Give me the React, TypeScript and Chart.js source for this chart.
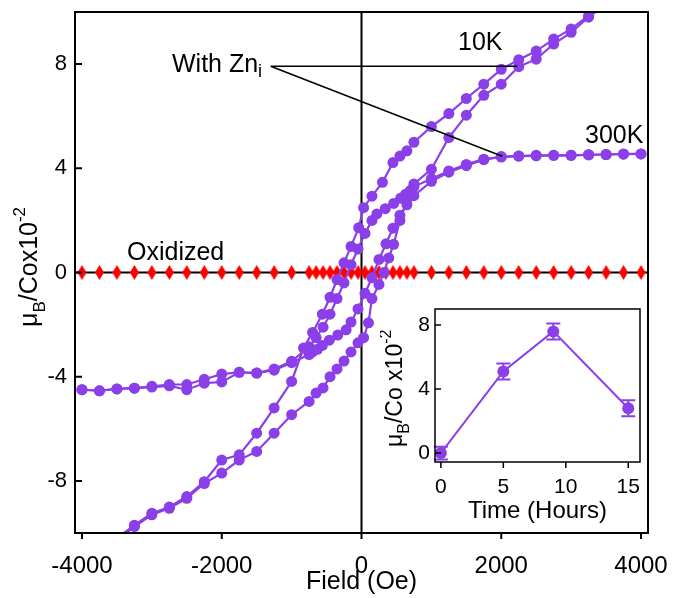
import { useEffect, useRef } from "react";
import { Chart, registerables } from "chart.js";
Chart.register(...registerables);

const FONT = '"Liberation Sans", Arial, sans-serif';
const PURPLE = "#8b3fe8";
const RED = "#ff0000";

// ---- main chart ticks ----
const xTicks = [-4000, -2000, 0, 2000, 4000];
const yTicks = [-8, -4, 0, 4, 8];

// ---- Oxidized sample ----
const oxField = [
  -4000, -3750, -3500, -3250, -3000, -2750, -2500, -2250, -2000, -1750, -1500, -1250, -1000,
  -750, -650, -550, -450, -350, -250, -150, -50, 50, 150, 250, 350, 450, 550, 650, 750,
  1000, 1250, 1500, 1750, 2000, 2250, 2500, 2750, 3000, 3250, 3500, 3750, 4000,
];
const oxMoment = [
  0, 0, 0, 0, 0, 0, 0, 0, 0, 0, 0, 0, 0,
  0, 0, 0, 0, 0, 0, 0, 0, 0, 0, 0, 0, 0, 0, 0, 0,
  0, 0, 0, 0, 0, 0, 0, 0, 0, 0, 0, 0, 0,
];

// ---- 10K loop, descending branch ----
const h10Down = [
  4000, 3750, 3500, 3250, 3000, 2750, 2500, 2250, 2000, 1750, 1500, 1250, 1000,
  750, 650, 550, 450, 300, 150, 30, -40, -150, -250, -350, -450, -560, -700, -830,
  -1000, -1250, -1500, -1750, -2000, -2250, -2500, -2750, -3000, -3250, -3500, -3750, -4000,
];
const m10Down = [
  11.4, 10.9, 10.4, 9.86, 9.35, 8.96, 8.5, 8.17, 7.8, 7.23, 6.68, 6.1, 5.6,
  5.0, 4.67, 4.47, 4.22, 3.46, 2.93, 2.49, 1.72, 1.0, 0.37, -0.27, -0.95, -1.6, -2.3, -2.9,
  -4.18, -5.2, -6.17, -7.0, -7.2, -8.03, -8.6, -9.0, -9.24, -9.7, -10.2, -10.7, -11.2,
];

// ---- 10K loop, ascending branch ----
const h10Up = [
  -4000, -3750, -3500, -3250, -3000, -2750, -2500, -2250, -2000, -1750, -1500, -1250, -1000,
  -750, -650, -550, -450, -350, -250, -150, -50, 30, 100, 150, 250, 320, 390, 460, 550, 650, 750,
  1000, 1250, 1500, 1750, 2000, 2250, 2500, 2750, 3000, 3250, 3500, 3750, 4000,
];
const m10Up = [
  -11.3, -10.8, -10.3, -9.75, -9.3, -9.05, -8.67, -8.1, -7.7, -7.2, -6.87, -6.17, -5.46,
  -4.95, -4.63, -4.43, -4.0, -3.7, -3.4, -3.05, -2.7, -2.5, -1.93, -1.0, -0.46, 0.0, 0.56, 1.08, 2.0, 2.8, 3.4,
  3.96, 5.18, 6.04, 6.8, 7.23, 7.9, 8.19, 8.77, 9.22, 9.8, 10.3, 10.8, 11.3,
];

// ---- 300K loop, descending branch ----
const h300Down = [
  4000, 3750, 3500, 3250, 3000, 2750, 2500, 2250, 2000, 1750, 1500, 1250, 1000,
  750, 700, 630, 560, 460, 340, 220, 150, 50, -50, -150, -250, -350, -450, -550, -650, -750,
  -1000, -1250, -1500, -1750, -2000, -2250, -2500, -2750, -3000, -3250, -3500, -3750, -4000,
];
const m300Down = [
  4.55, 4.54, 4.53, 4.52, 4.5, 4.5, 4.48, 4.47, 4.43, 4.35, 4.15, 3.9, 3.6,
  3.3, 3.15, 3.0, 2.85, 2.65, 2.45, 2.25, 2.0, 1.5, 0.9, 0.3, -0.4, -1.0, -1.6, -2.1, -2.5, -2.85,
  -3.41, -3.7, -3.86, -3.83, -3.9, -4.1, -4.3, -4.3, -4.37, -4.44, -4.47, -4.54, -4.5,
];

// ---- 300K loop, ascending branch ----
const h300Up = [
  -4000, -3750, -3500, -3250, -3000, -2750, -2500, -2250, -2000, -1750, -1500, -1250, -1000,
  -750, -700, -630, -560, -460, -340, -220, -150, -50, 50, 150, 250, 350, 450, 550, 650, 750,
  1000, 1250, 1500, 1750, 2000, 2250, 2500, 2750, 3000, 3250, 3500, 3750, 4000,
];
const m300Up = [
  -4.5, -4.54, -4.47, -4.44, -4.4, -4.35, -4.5, -4.25, -4.2, -3.83, -3.86, -3.75, -3.46,
  -3.15, -3.05, -2.95, -2.8, -2.6, -2.4, -2.2, -1.9, -1.4, -0.8, -0.2, 0.5, 1.1, 1.7, 2.2, 2.6, 2.95,
  3.5, 3.85, 4.1, 4.33, 4.45, 4.47, 4.5, 4.5, 4.5, 4.52, 4.53, 4.55, 4.55,
];

// ---- inset: moment vs annealing time ----
const timeHours = [0, 5, 9, 15];
const momentTime = [0.0, 5.1, 7.6, 2.8];
const momentErr = [0.4, 0.5, 0.5, 0.5];
const insetXTicks = [0, 5, 10, 15];
const insetYTicks = [0, 4, 8];

// annotation (data coordinates)
const calloutStart = [-1300, 7.92];
const calloutEnds = [
  [2230, 7.92],
  [2014, 4.46],
];

function pts(xs: number[], ys: number[]) {
  return xs.map((x, i) => ({ x, y: ys[i] }));
}

type Part = { t: string; s: number; dy?: number };
function drawRich(ctx: CanvasRenderingContext2D, parts: Part[], x: number, y: number) {
  let cx = x;
  for (const p of parts) {
    ctx.font = `${p.s}px ${FONT}`;
    ctx.fillText(p.t, cx, y + (p.dy || 0));
    cx += ctx.measureText(p.t).width;
  }
}

function makeDiamond() {
  const c = document.createElement("canvas");
  c.width = 9;
  c.height = 15;
  const g = c.getContext("2d")!;
  g.fillStyle = RED;
  g.beginPath();
  g.moveTo(4.5, 0);
  g.lineTo(9, 7.5);
  g.lineTo(4.5, 15);
  g.lineTo(0, 7.5);
  g.closePath();
  g.fill();
  return c;
}

const mainDecor = {
  id: "mainDecor",
  beforeDatasetsDraw(chart: any) {
    const { ctx, chartArea: a, scales } = chart;
    const x0 = scales.x.getPixelForValue(0);
    const y0 = scales.y.getPixelForValue(0);
    ctx.save();
    ctx.strokeStyle = "#000";
    ctx.lineWidth = 2;
    ctx.beginPath();
    ctx.moveTo(x0, a.top);
    ctx.lineTo(x0, a.bottom);
    ctx.moveTo(a.left, y0);
    ctx.lineTo(a.right, y0);
    ctx.stroke();
    ctx.restore();
  },
  afterDatasetsDraw(chart: any) {
    const { ctx, chartArea: a, scales } = chart;
    const sx = scales.x, sy = scales.y;
    ctx.save();
    ctx.strokeStyle = "#000";
    ctx.fillStyle = "#000";
    ctx.lineWidth = 2;
    ctx.strokeRect(a.left, a.top, a.right - a.left, a.bottom - a.top);
    // ticks
    ctx.beginPath();
    for (const v of xTicks) {
      const px = sx.getPixelForValue(v);
      ctx.moveTo(px, a.bottom);
      ctx.lineTo(px, a.bottom + 6);
    }
    for (const v of yTicks) {
      const py = sy.getPixelForValue(v);
      ctx.moveTo(a.left, py);
      ctx.lineTo(a.left + 7, py);
    }
    ctx.stroke();
    ctx.font = `24px ${FONT}`;
    ctx.textAlign = "center";
    ctx.textBaseline = "alphabetic";
    for (const v of xTicks) ctx.fillText(String(v), sx.getPixelForValue(v), 573);
    ctx.font = `22px ${FONT}`;
    ctx.textAlign = "right";
    ctx.textBaseline = "middle";
    for (const v of yTicks) ctx.fillText(String(v), a.left - 8, sy.getPixelForValue(v));
    // axis titles
    ctx.textBaseline = "alphabetic";
    ctx.textAlign = "center";
    ctx.font = `25px ${FONT}`;
    ctx.fillText("Field (Oe)", sx.getPixelForValue(0), 589);
    ctx.textAlign = "left";
    ctx.save();
    ctx.translate(37, 327);
    ctx.rotate(-Math.PI / 2);
    drawRich(ctx, [
      { t: "μ", s: 25 },
      { t: "B", s: 17, dy: 8 },
      { t: "/Cox10", s: 25 },
      { t: "-2", s: 17, dy: -12 },
    ], 0, 0);
    ctx.restore();
    // callout lines
    ctx.lineWidth = 1.5;
    ctx.beginPath();
    for (const e of calloutEnds) {
      ctx.moveTo(sx.getPixelForValue(calloutStart[0]), sy.getPixelForValue(calloutStart[1]));
      ctx.lineTo(sx.getPixelForValue(e[0]), sy.getPixelForValue(e[1]));
    }
    ctx.stroke();
    // labels
    ctx.textAlign = "left";
    drawRich(ctx, [{ t: "With Zn", s: 25 }, { t: "i", s: 18, dy: 5 }], 172, 72);
    ctx.font = `25px ${FONT}`;
    ctx.fillText("10K", 458, 50);
    ctx.fillText("300K", 585, 143);
    ctx.fillText("Oxidized", 127, 260);
    ctx.restore();
  },
};

const insetDecor = {
  id: "insetDecor",
  beforeDatasetsDraw(chart: any) {
    const { ctx, scales } = chart;
    const sx = scales.x, sy = scales.y;
    ctx.save();
    ctx.strokeStyle = PURPLE;
    ctx.lineWidth = 2;
    ctx.beginPath();
    timeHours.forEach((t, i) => {
      const px = sx.getPixelForValue(t);
      const top = sy.getPixelForValue(momentTime[i] + momentErr[i]);
      const bot = sy.getPixelForValue(momentTime[i] - momentErr[i]);
      ctx.moveTo(px, top);
      ctx.lineTo(px, bot);
      ctx.moveTo(px - 7, top);
      ctx.lineTo(px + 7, top);
      ctx.moveTo(px - 7, bot);
      ctx.lineTo(px + 7, bot);
    });
    ctx.stroke();
    ctx.restore();
  },
  afterDatasetsDraw(chart: any) {
    const { ctx, chartArea: a, scales } = chart;
    const sx = scales.x, sy = scales.y;
    ctx.save();
    ctx.strokeStyle = "#000";
    ctx.fillStyle = "#000";
    ctx.lineWidth = 1.5;
    ctx.strokeRect(a.left, a.top, a.right - a.left, a.bottom - a.top);
    ctx.beginPath();
    for (const v of insetXTicks) {
      const px = sx.getPixelForValue(v);
      ctx.moveTo(px, a.bottom);
      ctx.lineTo(px, a.bottom + 6);
    }
    for (const v of insetYTicks) {
      const py = sy.getPixelForValue(v);
      ctx.moveTo(a.left, py);
      ctx.lineTo(a.left + 6, py);
    }
    ctx.stroke();
    ctx.font = `21px ${FONT}`;
    ctx.textAlign = "center";
    ctx.textBaseline = "alphabetic";
    for (const v of insetXTicks) ctx.fillText(String(v), sx.getPixelForValue(v), a.bottom + 31);
    ctx.textAlign = "right";
    ctx.textBaseline = "middle";
    for (const v of insetYTicks) ctx.fillText(String(v), a.left - 5, sy.getPixelForValue(v));
    ctx.textAlign = "center";
    ctx.textBaseline = "alphabetic";
    ctx.font = `24px ${FONT}`;
    ctx.fillText("Time (Hours)", (a.left + a.right) / 2, a.bottom + 56);
    ctx.textAlign = "left";
    ctx.save();
    ctx.translate(a.left - 33, a.bottom - 15);
    ctx.rotate(-Math.PI / 2);
    drawRich(ctx, [
      { t: "μ", s: 23 },
      { t: "B", s: 16, dy: 7 },
      { t: "/Co x10", s: 23 },
      { t: "-2", s: 16, dy: -11 },
    ], 0, 0);
    ctx.restore();
    ctx.restore();
  },
};

export default function App() {
  const mainRef = useRef<HTMLCanvasElement>(null);
  const insetRef = useRef<HTMLCanvasElement>(null);

  useEffect(() => {
    document.body.style.margin = "0";
    const diamond = makeDiamond();
    const loopStyle = {
      showLine: true,
      borderColor: PURPLE,
      backgroundColor: PURPLE,
      pointBackgroundColor: PURPLE,
      pointBorderColor: PURPLE,
      borderWidth: 2.2,
      pointRadius: 5.5,
      pointBorderWidth: 0,
      tension: 0,
    };
    const main = new Chart(mainRef.current!, {
      type: "scatter",
      data: {
        datasets: [
          { label: "10K down", data: pts(h10Down, m10Down), ...loopStyle, order: 0 },
          { label: "10K up", data: pts(h10Up, m10Up), ...loopStyle, order: 0 },
          { label: "300K down", data: pts(h300Down, m300Down), ...loopStyle, order: 0 },
          { label: "300K up", data: pts(h300Up, m300Up), ...loopStyle, order: 0 },
          {
            label: "Oxidized",
            data: pts(oxField, oxMoment),
            showLine: false,
            pointStyle: diamond as any,
            pointRadius: 7,
            order: 5,
          },
        ],
      },
      options: {
        responsive: false,
        animation: false,
        layout: { padding: { left: 75, right: 25, top: 12, bottom: 65 } },
        plugins: { legend: { display: false }, tooltip: { enabled: false } },
        scales: {
          x: { type: "linear", min: -4100, max: 4100, display: false },
          y: { type: "linear", min: -10, max: 10, display: false },
        },
      },
      plugins: [mainDecor],
    });

    const inset = new Chart(insetRef.current!, {
      type: "scatter",
      data: {
        datasets: [
          {
            label: "moment",
            data: pts(timeHours, momentTime),
            showLine: true,
            borderColor: PURPLE,
            backgroundColor: PURPLE,
            pointBackgroundColor: PURPLE,
            pointBorderColor: PURPLE,
            borderWidth: 2,
            pointRadius: 6,
            pointBorderWidth: 0,
            tension: 0,
          },
        ],
      },
      options: {
        responsive: false,
        animation: false,
        layout: { padding: { left: 55, right: 1, top: 9, bottom: 66 } },
        plugins: { legend: { display: false }, tooltip: { enabled: false } },
        scales: {
          x: { type: "linear", min: -0.47, max: 15.94, display: false },
          y: { type: "linear", min: -0.56, max: 9, display: false },
        },
      },
      plugins: [insetDecor],
    });

    return () => {
      main.destroy();
      inset.destroy();
    };
  }, []);

  return (
    <div style={{ position: "relative", width: 673, height: 598, background: "#fff" }}>
      <canvas ref={mainRef} width={673} height={598} style={{ display: "block" }} />
      <canvas
        ref={insetRef}
        width={266}
        height={228}
        style={{ position: "absolute", left: 380, top: 300, display: "block" }}
      />
    </div>
  );
}
